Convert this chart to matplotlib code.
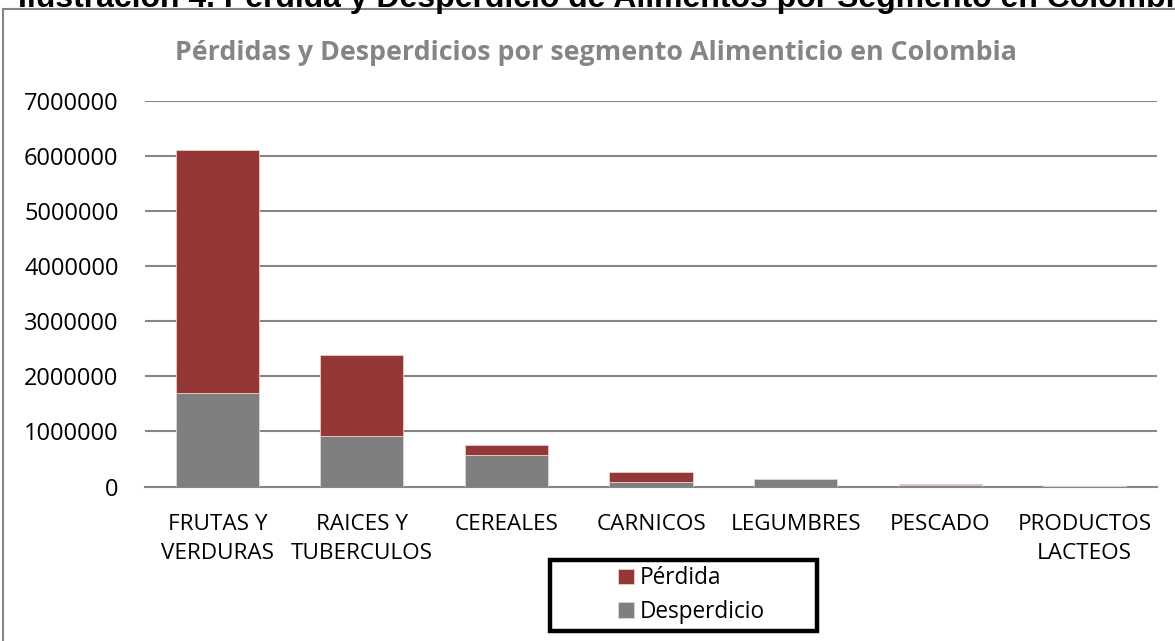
import numpy as np
import matplotlib.pyplot as plt
from matplotlib.patches import Rectangle

# segments and values (tonnes)
segmentos = ['FRUTAS Y\nVERDURAS', 'RAICES Y\nTUBERCULOS', 'CEREALES', 'CARNICOS',
             'LEGUMBRES', 'PESCADO', 'PRODUCTOS\nLACTEOS']
desperdicio = [1690000, 920000, 578000, 90000, 136000, 28000, 10000]
perdida = [4410000, 1470000, 176000, 170000, 0, 12000, 5000]

rojo = '#953735'
gris = '#7f7f7f'
linea = '#868686'
fuente = 'Open Sans'

fig = plt.figure(figsize=(11.75, 6.41), dpi=100)
ax = fig.add_axes([0.1234, 0.2410, 0.8613, 0.6019])

x = np.arange(len(segmentos))
ax.bar(x, desperdicio, width=0.575, color=gris, edgecolor='#e8d0d0', linewidth=0.6,
       label='Desperdicio', zorder=3)
ax.bar(x, perdida, width=0.575, bottom=desperdicio, color=rojo, edgecolor='#e8d0d0',
       linewidth=0.6, label='Pérdida', zorder=3)

ax.set_xlim(-0.5, len(segmentos) - 0.5)
ax.set_ylim(0, 7000000)
ax.set_yticks(np.arange(0, 7000001, 1000000))
ax.set_yticklabels([f'{v:d}' for v in range(0, 7000001, 1000000)])
ax.set_xticks(x)
ax.set_xticklabels(segmentos, linespacing=1.5)
ax.tick_params(axis='y', length=0, pad=19, labelsize=17, labelcolor='black')
ax.tick_params(axis='x', length=0, pad=20, labelsize=16.2, labelcolor='black')
for lab in ax.get_xticklabels() + ax.get_yticklabels():
    lab.set_fontfamily(fuente)

ax.grid(axis='y', color=linea, linewidth=1.5, zorder=0)
for s in ['top', 'right', 'left']:
    ax.spines[s].set_visible(False)
ax.spines['bottom'].set_color(linea)
ax.spines['bottom'].set_linewidth(1.5)

fig.text(0.507, 0.918, 'Pérdidas y Desperdicios por segmento Alimenticio en Colombia',
         ha='center', va='center', fontsize=19.3, fontweight='bold', color='#858585',
         family=fuente)

# heading of the document, cut off at the top of the picture
fig.text(18 / 1175, 1 - 6.5 / 641,
         'Ilustración 4. Pérdida y Desperdicio de Alimentos por Segmento en Colombia',
         ha='left', va='baseline', fontsize=23, fontweight='bold', color='black',
         family='Liberation Sans')

# outer chart frame
fig.patches.append(Rectangle((3 / 1175, -0.2), 1.2, 1.2 - 9 / 641, transform=fig.transFigure,
                             fill=False, edgecolor=linea, linewidth=1.5))

# legend box
fig.patches.append(Rectangle((550 / 1175, 1 - 631 / 641), 267 / 1175, 71 / 641,
                             transform=fig.transFigure, fill=False, edgecolor='black',
                             linewidth=3.2, zorder=5))
h, l = ax.get_legend_handles_labels()
leg = fig.legend(h[::-1], l[::-1], loc='center left', bbox_to_anchor=(598 / 1175, 1 - 595 / 641),
                 frameon=False, prop={'family': fuente, 'size': 16.3}, handlelength=0.7,
                 handleheight=0.7, handletextpad=0.25, labelspacing=0.4)

plt.savefig('out.png', dpi=100)
